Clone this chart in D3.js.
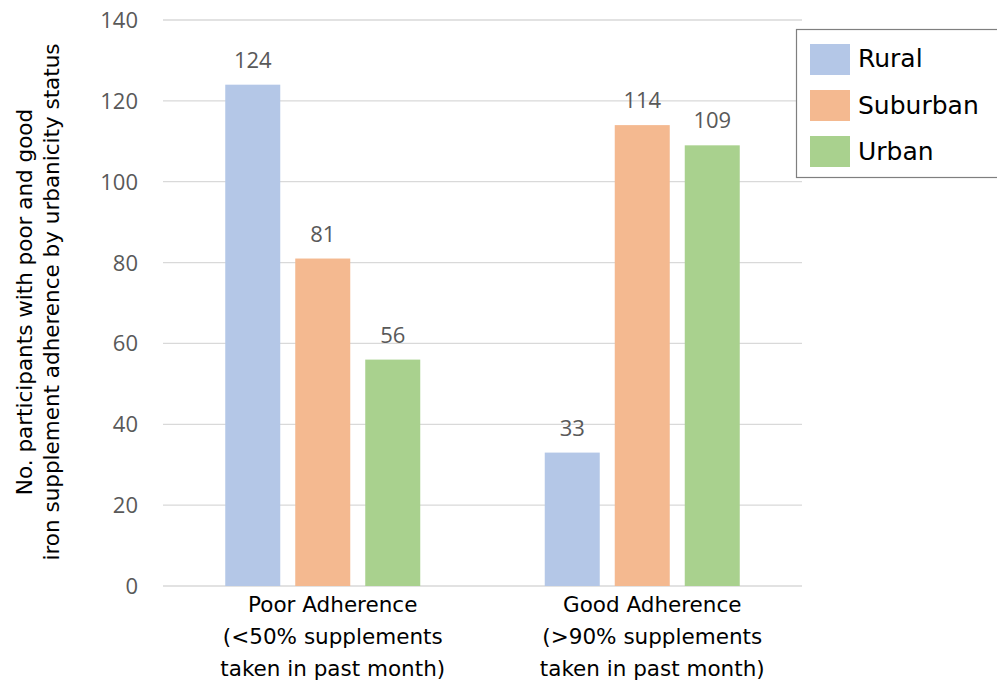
<!DOCTYPE html>
<html>
<head>
<meta charset="utf-8">
<script src="https://cdn.jsdelivr.net/npm/d3@7"></script>
<style>
  body { margin: 0; background: #fff; }
  svg { display: block; }
</style>
</head>
<body>
<div class="chart"></div>
<script>
const categories = ['Poor', 'Good']
const catLabels = [
    ['Poor Adherence', '(<50% supplements', 'taken in past month)'],
    ['Good Adherence', '(>90% supplements', 'taken in past month)']
]
const series = ['Rural', 'Suburban', 'Urban']
const rural = [124, 33]
const suburban = [81, 114]
const urban = [56, 109]
const colors = ['#b4c7e7', '#f4b990', '#a9d18e']
const yTicks = [0, 20, 40, 60, 80, 100, 120, 140]
const yTitle = ['No. participants with poor and good', 'iron supplement adherence by urbanicity status']

const values = [rural, suburban, urban]
const W = 997, H = 689
const plotLeft = 163, plotRight = 802, plotTop = 20, plotBottom = 586
const labelFont = 'DejaVu Sans, sans-serif'
const numFont = 'Open Sans, sans-serif'

let svg = d3.select('.chart')
    .append('svg')
    .attr('width', W)
    .attr('height', H)

let x0 = d3.scaleBand().domain(categories).range([plotLeft, plotRight]).paddingInner(0).paddingOuter(0)
let y = d3.scaleLinear().domain([0, 140]).range([plotBottom, plotTop])

// gridlines
svg.append('g')
    .selectAll('line')
    .data(yTicks)
    .join('line')
    .attr('x1', plotLeft)
    .attr('x2', plotRight)
    .attr('y1', d => y(d))
    .attr('y2', d => y(d))
    .attr('stroke', '#d9d9d9')
    .attr('stroke-width', 1.3)

// y tick labels
svg.append('g')
    .selectAll('text')
    .data(yTicks)
    .join('text')
    .attr('x', 138)
    .attr('y', d => y(d) + 8)
    .attr('text-anchor', 'end')
    .attr('font-family', numFont)
    .attr('font-size', 22)
    .attr('fill', '#595959')
    .text(d => d)

// y title (two lines)
yTitle.forEach((t, i) => {
    svg.append('text')
        .attr('transform', `translate(${32 + i * 27}, 302) rotate(-90)`)
        .attr('text-anchor', 'middle')
        .attr('font-family', labelFont)
        .attr('font-size', 21.5)
        .attr('fill', '#000')
        .text(t)
})

// bars
const barW = 55, barGap = 15
const groupW = series.length * barW + (series.length - 1) * barGap
let x1 = d3.scaleBand().domain(series).range([0, groupW]).paddingInner(barGap / (barW + barGap)).paddingOuter(0)

categories.forEach((c, ci) => {
    let gx = x0(c) + (x0.bandwidth() - groupW) / 2
    series.forEach((s, si) => {
        let v = values[si][ci]
        svg.append('rect')
            .attr('x', gx + x1(s))
            .attr('y', y(v))
            .attr('width', x1.bandwidth())
            .attr('height', y(0) - y(v))
            .attr('fill', colors[si])
        svg.append('text')
            .attr('x', gx + x1(s) + x1.bandwidth() / 2)
            .attr('y', y(v) - 17)
            .attr('text-anchor', 'middle')
            .attr('font-family', numFont)
            .attr('font-size', 22)
            .attr('fill', '#595959')
            .text(v)
    })
    catLabels[ci].forEach((t, li) => {
        svg.append('text')
            .attr('x', x0(c) + x0.bandwidth() / 2 + 10)
            .attr('y', 612 + li * 32)
            .attr('text-anchor', 'middle')
            .attr('font-family', labelFont)
            .attr('font-size', 21.5)
            .attr('fill', '#000')
            .text(t)
    })
})

// legend
let lg = svg.append('g')
lg.append('rect')
    .attr('x', 796.5)
    .attr('y', 29.5)
    .attr('width', 210)
    .attr('height', 148)
    .attr('fill', '#fff')
    .attr('stroke', '#7f7f7f')
    .attr('stroke-width', 1.2)
series.forEach((s, i) => {
    lg.append('rect')
        .attr('x', 810)
        .attr('y', 44 + i * 46)
        .attr('width', 40)
        .attr('height', 31)
        .attr('fill', colors[i])
    lg.append('text')
        .attr('x', 858)
        .attr('y', 67 + i * 46.5)
        .attr('font-family', labelFont)
        .attr('font-size', 25)
        .attr('fill', '#000')
        .text(s)
})
</script>
</body>
</html>
